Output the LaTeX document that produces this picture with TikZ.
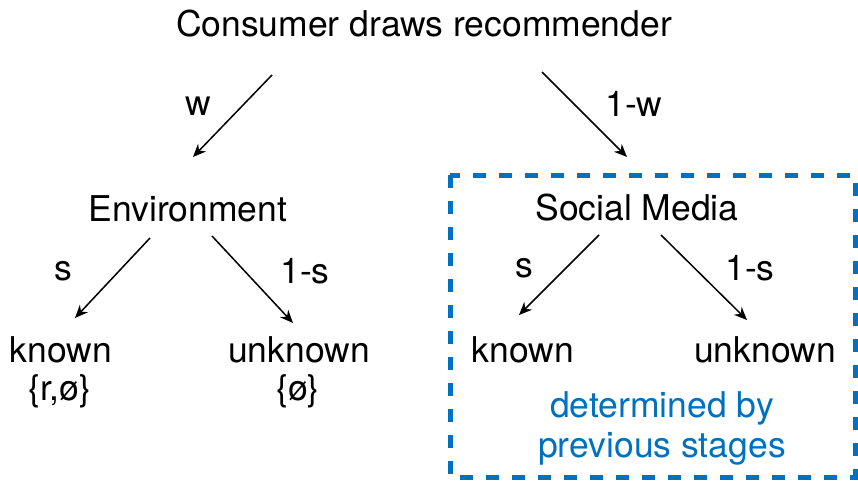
\documentclass[tikz,border=0pt]{standalone}
\usepackage{fontspec}
\setmainfont{TeX Gyre Heros}
\usetikzlibrary{arrows.meta}
\definecolor{boxblue}{RGB}{0,112,192}
\begin{document}
\begin{tikzpicture}[x=1pt,y=-1pt,
  txt/.style={inner sep=0pt,anchor=base,font=\fontsize{35.5}{42}\selectfont},
  arr/.style={line width=1.5pt,-{Stealth[length=13pt,width=11pt]}},
  dashbox/.style={draw=boxblue,line width=5pt,dash pattern=on 13pt off 13pt}]
\useasboundingbox (0,0) rectangle (858,482);
% dashed box
\draw[dashbox] (450,175) rectangle (855,477);
% texts
\node[txt] (title) at (424,36) {Consumer draws recommender};
\node[txt] (env) at (188,221) {Environment};
\node[txt] (sm) at (637,220) {Social Media};
\node[txt] (k1) at (61,362) {known};
\node[txt] (u1) at (299,362) {unknown};
\node[txt] (ks1) at (60,400) {\{r,ø\}};
\node[txt] (us1) at (298,400) {\{ø\}};
\node[txt] (k2) at (523,362) {known};
\node[txt] (u2) at (765,362) {unknown};
\node[txt,text=boxblue] (det1) at (662,417) {determined by};
\node[txt,text=boxblue] (det2) at (662,457) {previous stages};
% labels
\node[txt] (lw) at (198,115) {w};
\node[txt] (l1w) at (634,116) {1-w};
\node[txt] (ls1) at (63,280) {s};
\node[txt] (l1s1) at (305,283) {1-s};
\node[txt] (ls2) at (524,277) {s};
\node[txt] (l1s2) at (750,280) {1-s};
% arrow end points
\coordinate (a1s) at (272,75);  \coordinate (a1e) at (193,157);
\coordinate (a2s) at (542,72);  \coordinate (a2e) at (627,157);
\coordinate (a3s) at (150,238); \coordinate (a3e) at (75,318);
\coordinate (a4s) at (212,236); \coordinate (a4e) at (293,323);
\coordinate (a5s) at (599,235); \coordinate (a5e) at (519,315);
\coordinate (a6s) at (661,235); \coordinate (a6e) at (747,320);
\draw[arr] (a1s) -- (a1e);
\draw[arr] (a2s) -- (a2e);
\draw[arr] (a3s) -- (a3e);
\draw[arr] (a4s) -- (a4e);
\draw[arr] (a5s) -- (a5e);
\draw[arr] (a6s) -- (a6e);
\end{tikzpicture}
\end{document}
